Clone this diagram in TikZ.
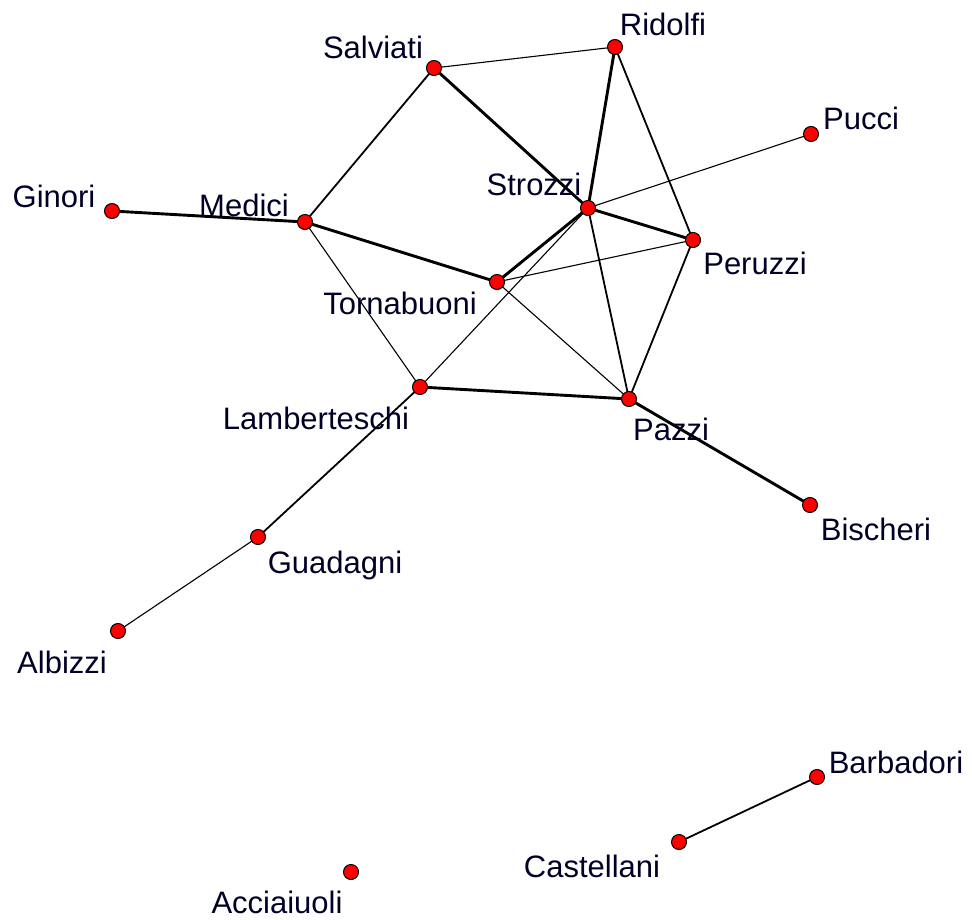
\documentclass[tikz,border=0pt]{standalone}
\usepackage{fontspec}
\setmainfont{Liberation Sans}
\usepackage{tikz}

\tikzset{
  actor/.style={circle,draw=black,fill=red,line width=1pt,minimum size=15pt,inner sep=0pt},
  lbl/.style={font=\fontsize{31}{33}\selectfont,text=black!85!blue,inner sep=0pt},
  tie/.style={line width=1.1pt},
  mtie/.style={line width=1.8pt},
  ktie/.style={line width=2.9pt}
}

\begin{document}
\begin{tikzpicture}[x=1pt,y=-1pt]
                \useasboundingbox (0,0) rectangle (972,920);
                % ties
                \coordinate (Salviati) at (434,68);
                \coordinate (Ridolfi) at (615,47);
                \coordinate (Pucci) at (811,134);
                \coordinate (Strozzi) at (588,208);
                \coordinate (Ginori) at (112,211);
                \coordinate (Medici) at (305,222);
                \coordinate (Peruzzi) at (693,240);
                \coordinate (Tornabuoni) at (497,282);
                \coordinate (Lamberteschi) at (420,387);
                \coordinate (Pazzi) at (629,399);
                \coordinate (Bischeri) at (810,505);
                \coordinate (Guadagni) at (258,537);
                \coordinate (Albizzi) at (118,631);
                \coordinate (Barbadori) at (817,777);
                \coordinate (Castellani) at (679,842);
                \coordinate (Acciaiuoli) at (351,872);
                \draw[tie] (Salviati) -- (Ridolfi);
                \draw[ktie] (Salviati) -- (Strozzi);
                \draw[mtie] (Salviati) -- (Medici);
                \draw[ktie] (Ridolfi) -- (Strozzi);
                \draw[mtie] (Ridolfi) -- (Peruzzi);
                \draw[tie] (Strozzi) -- (Pucci);
                \draw[ktie] (Strozzi) -- (Peruzzi);
                \draw[ktie] (Strozzi) -- (Tornabuoni);
                \draw[tie] (Strozzi) -- (Lamberteschi);
                \draw[mtie] (Strozzi) -- (Pazzi);
                \draw[ktie] (Medici) -- (Tornabuoni);
                \draw[tie] (Medici) -- (Lamberteschi);
                \draw[ktie] (Ginori) -- (Medici);
                \draw[tie] (Tornabuoni) -- (Peruzzi);
                \draw[tie] (Tornabuoni) -- (Pazzi);
                \draw[mtie] (Peruzzi) -- (Pazzi);
                \draw[ktie] (Lamberteschi) -- (Pazzi);
                \draw[mtie] (Lamberteschi) -- (Guadagni);
                \draw[ktie] (Pazzi) -- (Bischeri);
                \draw[tie] (Guadagni) -- (Albizzi);
                \draw[mtie] (Castellani) -- (Barbadori);
                % families
                \foreach \f in {Salviati,Ridolfi,Pucci,Strozzi,Ginori,Medici,Peruzzi,Tornabuoni,
                  Lamberteschi,Pazzi,Bischeri,Guadagni,Albizzi,Barbadori,Castellani,Acciaiuoli}
                  \node[actor] (n\f) at (\f) {};
                \node[lbl] (tSalviati) at (373,47) {Salviati};
                \node[lbl] (tRidolfi) at (663,24) {Ridolfi};
                \node[lbl] (tPucci) at (861,118) {Pucci};
                \node[lbl] (tStrozzi) at (534,184) {Strozzi};
                \node[lbl] (tGinori) at (54,196) {Ginori};
                \node[lbl] (tMedici) at (244,205) {Medici};
                \node[lbl] (tPeruzzi) at (755,263) {Peruzzi};
                \node[lbl] (tTornabuoni) at (400,303) {Tornabuoni};
                \node[lbl] (tLamberteschi) at (316,418) {Lamberteschi};
                \node[lbl] (tPazzi) at (671,429) {Pazzi};
                \node[lbl] (tBischeri) at (876,529) {Bischeri};
                \node[lbl] (tGuadagni) at (335,565) {Guadagni};
                \node[lbl] (tAlbizzi) at (62,662) {Albizzi};
                \node[lbl] (tBarbadori) at (896,762) {Barbadori};
                \node[lbl] (tCastellani) at (592,866) {Castellani};
                \node[lbl] (tAcciaiuoli) at (277,902) {Acciaiuoli};
\end{tikzpicture}
\end{document}
